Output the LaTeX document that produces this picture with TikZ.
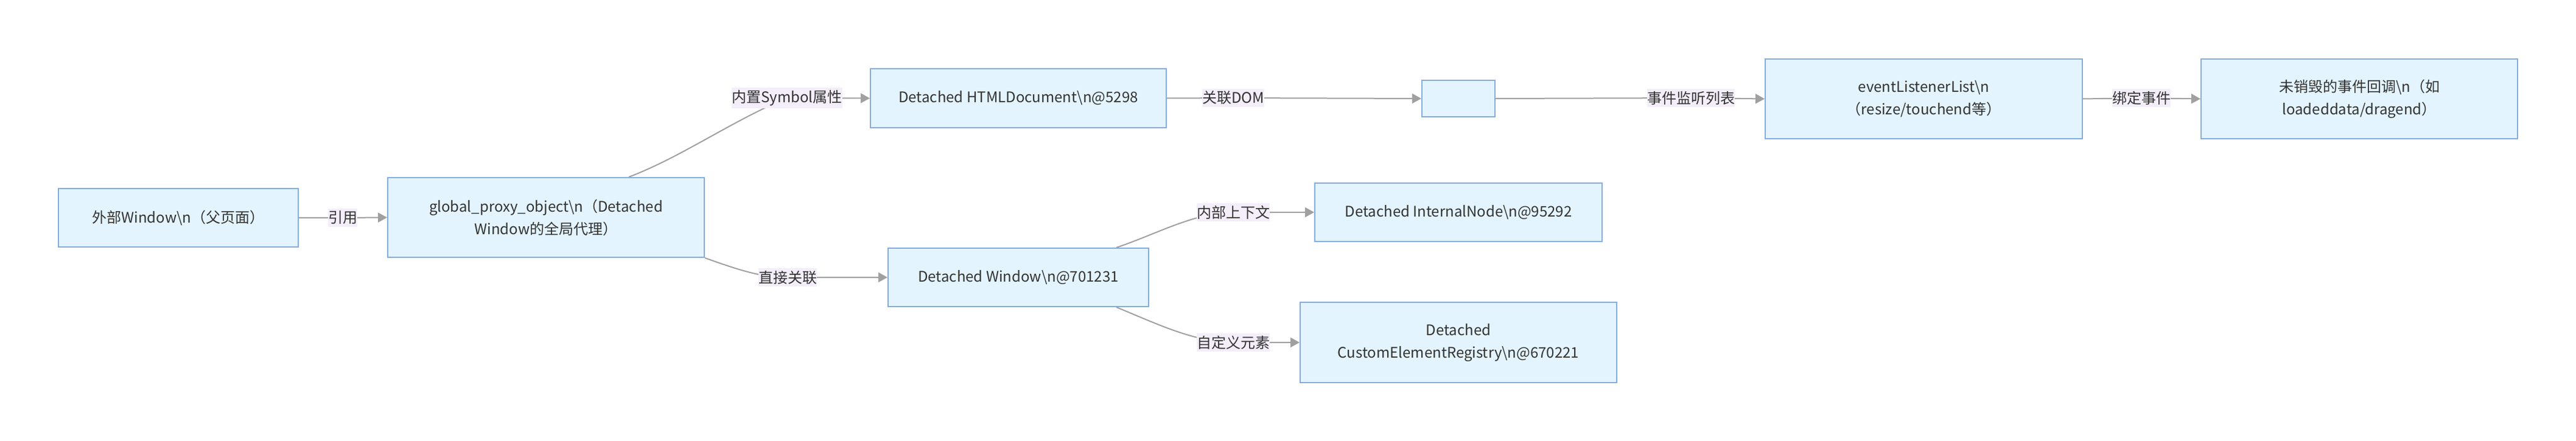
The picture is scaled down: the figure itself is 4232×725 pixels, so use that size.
\documentclass[tikz,border=0pt]{standalone}
\usepackage{fontspec}
\setmainfont{Noto Sans CJK SC}
\usetikzlibrary{arrows.meta}
\definecolor{nodefill}{HTML}{E3F4FE}
\definecolor{nodeline}{HTML}{86ACDD}
\definecolor{edgecol}{HTML}{A0A0A0}
\definecolor{lblfill}{HTML}{F3EEFA}
\definecolor{txt}{HTML}{333333}
\pgfdeclarelayer{canvas}
\pgfdeclarelayer{edges}
\pgfsetlayers{canvas,edges,main}
\begin{document}
\begin{tikzpicture}[x=1pt,y=-1pt,
  box/.style={draw=nodeline, fill=nodefill, line width=2pt, inner sep=0pt, align=center, text=txt, font=\fontsize{24}{37}\selectfont},
  lbl/.style={fill=lblfill, inner xsep=0pt, inner ysep=4pt, text=txt, font=\fontsize{24}{30}\selectfont},
  conn/.style={draw=edgecol, line width=2pt, -{Triangle[length=15pt,width=16pt]}},
]
\begin{pgfonlayer}{canvas}
\fill[white] (0,0) rectangle (4232,725);
\end{pgfonlayer}
\useasboundingbox (0,0) rectangle (4232,725);

% boxes
\node[box, minimum width=394pt, minimum height=96pt] (A) at (293,358) {外部Window\textbackslash n（父页面）};
\node[box, minimum width=520pt, minimum height=131pt] (B) at (897,357.5) {global\_proxy\_object\textbackslash n（Detached\\Window的全局代理）};
\node[box, minimum width=486pt, minimum height=97pt] (C) at (1673,161.5) {Detached HTMLDocument\textbackslash n@5298};
\node[box, minimum width=120pt, minimum height=60pt] (D) at (2396,162) {};
\node[box, minimum width=521pt, minimum height=131pt] (E) at (3160.5,162.5) {eventListenerList\textbackslash n\\（resize/touchend等）};
\node[box, minimum width=520pt, minimum height=131pt] (F) at (3876,162.5) {未销毁的事件回调\textbackslash n（如\\loadeddata/dragend）};
\node[box, minimum width=428pt, minimum height=96pt] (G) at (1673,456) {Detached Window\textbackslash n@701231};
\node[box, minimum width=472pt, minimum height=96pt] (H) at (2396,349) {Detached InternalNode\textbackslash n@95292};
\node[box, minimum width=520pt, minimum height=132pt] (I) at (2396,563) {Detached\\CustomElementRegistry\textbackslash n@670221};

% edge labels
\node[lbl] (LAB) at (563,358) {引用};
\node[lbl] (LBC) at (1293,161) {内置Symbol属性};
\node[lbl] (LCD) at (2026,161) {关联DOM};
\node[lbl] (LDE) at (2778,161) {事件监听列表};
\node[lbl] (LEF) at (3518,161) {绑定事件};
\node[lbl] (LBG) at (1294,456) {直接关联};
\node[lbl] (LGH) at (2026,349) {内部上下文};
\node[lbl] (LGI) at (2026,563) {自定义元素};

% connectors
\begin{pgfonlayer}{edges}
\draw[conn] (A.east) -- (LAB.center) -- (B.west);
\draw[conn] ([xshift=136pt]B.north) .. controls (1120,258) and (1200,200) .. (LBC.center) -- (C.west);
\draw[conn] (C.east) -- (LCD.center) -- (D.west);
\draw[conn] (D.east) -- (LDE.center) -- (E.west);
\draw[conn] (E.east) -- (LEF.center) -- (F.west);
\draw[conn] (B.south east) .. controls (1225,448) and (1255,456) .. (LBG.center) -- (G.west);
\draw[conn] ([xshift=161pt]G.north) .. controls (1900,385) and (1960,350) .. (LGH.center) -- (H.west);
\draw[conn] ([xshift=161pt]G.south) .. controls (1900,532) and (1960,562) .. (LGI.center) -- (I.west);
\end{pgfonlayer}
\end{tikzpicture}
\end{document}
